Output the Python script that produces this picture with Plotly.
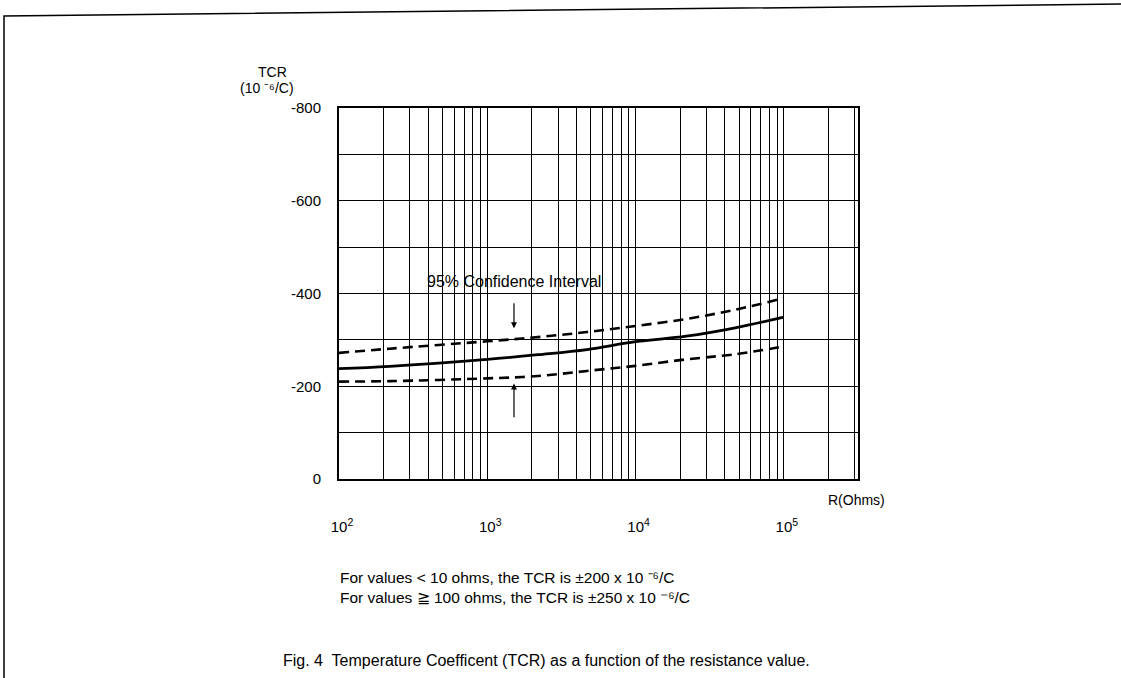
import plotly.graph_objects as go

# Data
r_ohms = [100, 220, 1000, 2200, 4700, 10000, 22000, 47000, 100000]
tcr_mean = [-238, -243, -258, -268, -279, -296, -308, -326, -349]
tcr_upper = [-272, -281, -297, -306, -317, -330, -345, -365, -390]
tcr_lower = [-210, -211, -217, -222, -233, -244, -258, -269, -286]

y_ticks = [-800, -700, -600, -500, -400, -300, -200, -100, 0]
y_labels = ["-800", "", "-600", "", "-400", "", "-200", "", "0"]
x_major = [100, 1000, 10000, 100000]
x_major_txt = ["10<sup>2</sup>", "10<sup>3</sup>", "10<sup>4</sup>", "10<sup>5</sup>"]
x_minor = [m * 10 ** e for e in range(2, 6) for m in range(2, 10)]

W, H = 1121, 678
L, R, T, B = 339, 858, 108, 479
FONT = "Liberation Sans, Arial, Helvetica, sans-serif"

fig = go.Figure()
for ys in (tcr_upper, tcr_lower):
    fig.add_trace(go.Scatter(x=r_ohms, y=ys, mode="lines",
                             line=dict(color="black", width=2.6, dash="10px,6px", shape="spline"),
                             showlegend=False, hoverinfo="skip"))
fig.add_trace(go.Scatter(x=r_ohms, y=tcr_mean, mode="lines",
                         line=dict(color="black", width=2.8, shape="spline"),
                         showlegend=False, hoverinfo="skip"))

def px_x(p):
    return (p - L) / (R - L)

def px_y(p):
    return (B - p) / (B - T)

def txt(x, y, s, size=15, xanchor="center"):
    return dict(x=px_x(x), y=px_y(y), xref="paper", yref="paper", text=s, showarrow=False,
                xanchor=xanchor, yanchor="middle", align="left",
                font=dict(size=size, family=FONT, color="black"))

ann = [
    txt(856, 500, "R(Ohms)", 14),
    txt(272, 72, "TCR", 14),
    txt(296, 88, "(10 \u207b\u2076/C)", 14, xanchor="right"),
    dict(x=3.18, y=-426, xref="x", yref="y", text="95% Confidence Interval",
         showarrow=False, font=dict(size=16, family=FONT, color="black")),
    dict(x=3.18, y=-325, xref="x", yref="y", ax=3.18, ay=-382, axref="x", ayref="y",
         text="", showarrow=True, arrowhead=2, arrowsize=1, arrowwidth=1.2, arrowcolor="black"),
    dict(x=3.18, y=-206, xref="x", yref="y", ax=3.18, ay=-130, axref="x", ayref="y",
         text="", showarrow=True, arrowhead=2, arrowsize=1, arrowwidth=1.2, arrowcolor="black"),
    txt(338, 587,
        "For values &lt; 10 ohms, the TCR is \u00b1200 x 10 \u207b\u2076/C<br>"
        "For values \u2267 100 ohms, the TCR is \u00b1250 x 10 \u207b\u2076/C", 15.5, xanchor="left"),
    txt(546, 660, "Fig. 4  Temperature Coefficent (TCR) as a function of the resistance value.", 16),
]

fig.update_layout(
    width=W, height=H,
    margin=dict(l=L, r=W - R, t=T, b=H - B),
    paper_bgcolor="white", plot_bgcolor="white",
    annotations=ann,
    shapes=[dict(type="path", xref="paper", yref="paper",
                 path=f"M {px_x(4)} {px_y(700)} L {px_x(4)} {px_y(16)} L {px_x(1125)} {px_y(4)}",
                 line=dict(color="black", width=1.5))],
    xaxis=dict(type="log", range=[2, 5.5], tickvals=x_major, ticktext=x_major_txt,
               tickfont=dict(size=15, family=FONT, color="black"), ticklabelstandoff=33,
               ticklabelshift=3,
               showgrid=True, gridcolor="black", gridwidth=1.3,
               ticks="", showline=True, mirror=True, linecolor="black", linewidth=2,
               zeroline=False,
               minor=dict(tickvals=x_minor, showgrid=True, gridcolor="black", gridwidth=1.3, ticks="")),
    yaxis=dict(range=[0, -800], tickvals=y_ticks, ticktext=y_labels,
               showgrid=True, gridcolor="black", gridwidth=1.3, ticks="", ticklabelstandoff=13,
               showline=True, mirror=True, linecolor="black", linewidth=2, zeroline=False,
               tickfont=dict(size=15, family=FONT, color="black")),
)

fig.write_html("out.html", config={"displayModeBar": False},
               post_script="document.body.style.margin='0px';")
